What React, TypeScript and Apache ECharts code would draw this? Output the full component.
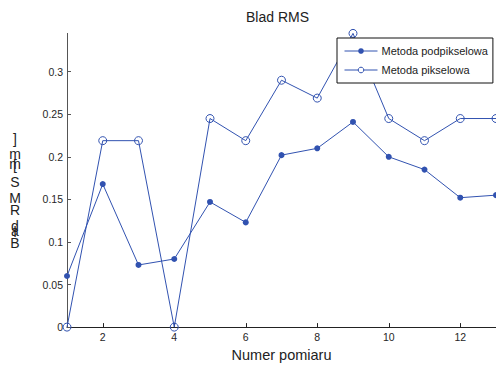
import React, { useEffect, useRef } from "react";
import * as echarts from "echarts";

const measurements = [1, 2, 3, 4, 5, 6, 7, 8, 9, 10, 11, 12, 13];
const subpixel = [0.06, 0.168, 0.073, 0.08, 0.147, 0.123, 0.202, 0.21, 0.241, 0.2, 0.185, 0.152, 0.155];
const pixel = [0, 0.219, 0.219, 0, 0.245, 0.219, 0.29, 0.269, 0.345, 0.245, 0.219, 0.245, 0.245];
const xTicks = [2, 4, 6, 8, 10, 12];
const yTicks = [0, 0.05, 0.1, 0.15, 0.2, 0.25, 0.3];
const seriesNames = ["Metoda podpikselowa", "Metoda pikselowa"];
const titleText = "Blad RMS";
const xName = "Numer pomiaru";
const yNameChars = ["]", "m", "m", "[", "S", "M", "R", "d", "a", "l", "B"];
const yNameCenters = [139, 153.5, 163.5, 165, 182, 198, 210, 226, 231, 232, 243];

const FONT = "'Liberation Sans', Arial, sans-serif";
const BLUE = "#3152b0";

export default function App() {
  const ref = useRef<HTMLDivElement>(null);
  useEffect(() => {
    if (!ref.current) return;
    const chart = echarts.init(ref.current, undefined, { renderer: "svg" });
    const yNameGraphics = yNameChars.map((c, i) => ({
      type: "text",
      x: 15,
      y: yNameCenters[i],
      style: {
        text: c,
        fill: "#222",
        font: `14px ${FONT}`,
        textAlign: "center",
        textVerticalAlign: "middle",
      },
    }));
    chart.setOption({
      animation: false,
      backgroundColor: "#fff",
      textStyle: { fontFamily: FONT },
      grid: { left: 67, right: -3, top: 33.4, bottom: 35.3, containLabel: false },
      graphic: [
        {
          type: "text",
          x: 277.5,
          y: 16.5,
          style: {
            text: titleText,
            fill: "#222",
            font: `14px ${FONT}`,
            textAlign: "center",
            textVerticalAlign: "middle",
          },
        },
        ...yNameGraphics,
      ],
      legend: {
        left: 337,
        top: 38,
        orient: "vertical",
        padding: [7.5, 5, 7.5, 7],
        itemGap: 8,
        itemWidth: 33,
        itemHeight: 7,
        backgroundColor: "#fff",
        borderColor: "#111",
        borderWidth: 1,
        borderRadius: 0,
        lineStyle: { width: 1 },
        textStyle: { fontSize: 11, color: "#222", fontFamily: FONT, padding: [0, 0, 0, -1] },
        data: [
          { name: seriesNames[0] },
          { name: seriesNames[1], itemStyle: { color: "#fff", borderColor: BLUE, borderWidth: 1 } },
        ],
      },
      xAxis: {
        type: "value",
        min: 1,
        max: 13,
        name: xName,
        nameLocation: "middle",
        nameGap: 19,
        nameTextStyle: { fontSize: 14.5, color: "#222", fontFamily: FONT },
        axisLine: { show: true, lineStyle: { color: "#222", width: 1 } },
        axisTick: { show: true, inside: true, length: 4, customValues: xTicks, lineStyle: { color: "#222" } },
        axisLabel: { customValues: xTicks, fontSize: 10.5, color: "#262626", margin: 4, fontFamily: FONT },
        splitLine: { show: false },
      },
      yAxis: {
        type: "value",
        min: 0,
        max: 0.345,
        axisLine: { show: true, lineStyle: { color: "#555", width: 1 } },
        axisTick: { show: true, inside: true, length: 4, customValues: yTicks, lineStyle: { color: "#555" } },
        axisLabel: {
          customValues: yTicks,
          fontSize: 10.5,
          color: "#262626",
          margin: 4,
          fontFamily: FONT,
          formatter: (v: number) => String(Math.round(v * 100) / 100),
        },
        splitLine: { show: false },
      },
      series: [
        {
          name: seriesNames[0],
          type: "line",
          data: measurements.map((x, i) => [x, subpixel[i]]),
          symbol: "circle",
          symbolSize: 6,
          showAllSymbol: true,
          lineStyle: { color: BLUE, width: 1 },
          itemStyle: { color: BLUE },
          z: 3,
        },
        {
          name: seriesNames[1],
          type: "line",
          data: measurements.map((x, i) => [x, pixel[i]]),
          symbol: "circle",
          symbolSize: 8,
          showAllSymbol: true,
          lineStyle: { color: BLUE, width: 1 },
          itemStyle: { color: "rgba(255,255,255,0)", borderColor: BLUE, borderWidth: 1 },
          z: 2,
        },
      ],
    });
    return () => chart.dispose();
  }, []);
  return (
    <div
      ref={ref}
      style={{ position: "fixed", left: 0, top: 0, width: 496, height: 367, background: "#fff" }}
    />
  );
}
